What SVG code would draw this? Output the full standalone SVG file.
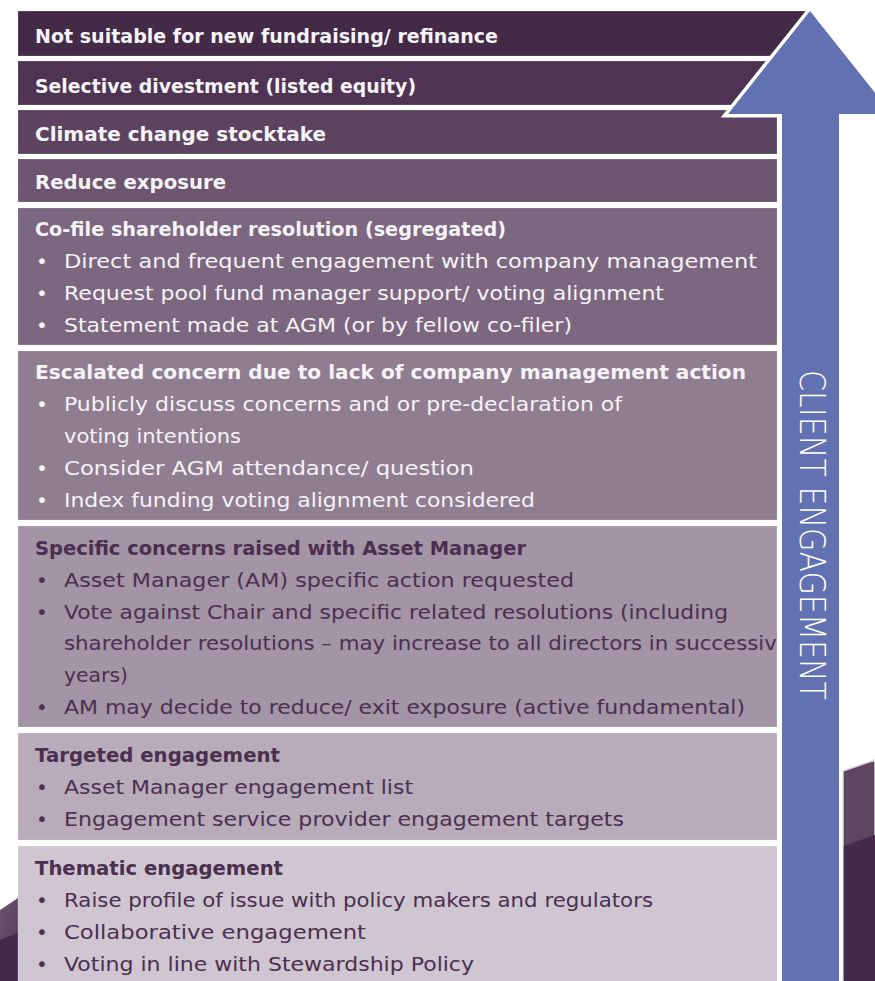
<svg xmlns="http://www.w3.org/2000/svg" width="875" height="981" viewBox="0 0 875 981">
<defs>
<style>
.t{font-family:"DejaVu Sans","Liberation Sans",sans-serif;font-weight:bold;font-size:19px}
.b{font-family:"DejaVu Sans","Liberation Sans",sans-serif;font-size:20px}
.d{font-family:"DejaVu Sans","Liberation Sans",sans-serif;font-size:20px;text-anchor:middle}
.lt{fill:#f6f3f7}
.dk{fill:#4a2f4f}
.box{stroke:#ffffff;stroke-opacity:0.18;stroke-width:1}
</style>
<clipPath id="clip7"><rect x="18" y="526" width="759" height="201"/></clipPath>
<linearGradient id="gl" x1="0" y1="0" x2="1" y2="1">
<stop offset="0" stop-color="#6b526e"/>
<stop offset="1" stop-color="#573d5b"/>
</linearGradient>
</defs>
<rect width="875" height="981" fill="#ffffff"/>

<g id="decor-left">
<polygon points="0,910 18,898 18,981 0,981" fill="url(#gl)"/>
<polygon points="0,940 18,933 18,981 0,981" fill="#44294a"/>
</g>
<g id="decor-right">
<polygon points="843,771 875,760 875,981 843,981" fill="#5e4560" stroke="#d9d2dc" stroke-width="1.5"/>
<polygon points="843.8,846 875,835 875,981 843.8,981" fill="#44294a"/>
</g>

<g id="box1">
<polygon class="box" points="18,11 812,11 778,56 18,56" fill="#432a47"/>
<text class="t lt" x="35" y="43" textLength="463" lengthAdjust="spacingAndGlyphs">Not suitable for new fundraising/ refinance</text>
</g>
<g id="box2">
<polygon class="box" points="18,61 772,61 737,105 18,105" fill="#4e3452"/>
<text class="t lt" x="35" y="93" textLength="381" lengthAdjust="spacingAndGlyphs">Selective divestment (listed equity)</text>
</g>
<g id="box3">
<rect class="box" x="18" y="110" width="759" height="44" fill="#5d4360"/>
<text class="t lt" x="35" y="141" textLength="291" lengthAdjust="spacingAndGlyphs">Climate change stocktake</text>
</g>
<g id="box4">
<rect class="box" x="18" y="159" width="759" height="43" fill="#6d5570"/>
<text class="t lt" x="35" y="189" textLength="191" lengthAdjust="spacingAndGlyphs">Reduce exposure</text>
</g>
<g id="box5">
<rect class="box" x="18" y="208" width="759" height="137" fill="#7c6780"/>
<text class="t lt" x="35" y="236" textLength="471" lengthAdjust="spacingAndGlyphs">Co-file shareholder resolution (segregated)</text>
<text class="d lt" x="42" y="268">•</text>
<text class="b lt" x="64" y="268" textLength="693" lengthAdjust="spacingAndGlyphs">Direct and frequent engagement with company management</text>
<text class="d lt" x="42" y="300">•</text>
<text class="b lt" x="64" y="300" textLength="600" lengthAdjust="spacingAndGlyphs">Request pool fund manager support/ voting alignment</text>
<text class="d lt" x="42" y="332">•</text>
<text class="b lt" x="64" y="332" textLength="508" lengthAdjust="spacingAndGlyphs">Statement made at AGM (or by fellow co-filer)</text>
</g>
<g id="box6">
<rect class="box" x="18" y="351" width="759" height="169" fill="#8f7d90"/>
<text class="t lt" x="35" y="379" textLength="711" lengthAdjust="spacingAndGlyphs">Escalated concern due to lack of company management action</text>
<text class="d lt" x="42" y="411">•</text>
<text class="b lt" x="64" y="411" textLength="558" lengthAdjust="spacingAndGlyphs">Publicly discuss concerns and or pre-declaration of</text>
<text class="b lt" x="64" y="443" textLength="177" lengthAdjust="spacingAndGlyphs">voting intentions</text>
<text class="d lt" x="42" y="475">•</text>
<text class="b lt" x="64" y="475" textLength="410" lengthAdjust="spacingAndGlyphs">Consider AGM attendance/ question</text>
<text class="d lt" x="42" y="507">•</text>
<text class="b lt" x="64" y="507" textLength="471" lengthAdjust="spacingAndGlyphs">Index funding voting alignment considered</text>
</g>
<g id="box7">
<rect class="box" x="18" y="526" width="759" height="201" fill="#a394a6"/>
<text class="t dk" x="35" y="555" textLength="491" lengthAdjust="spacingAndGlyphs">Specific concerns raised with Asset Manager</text>
<text class="d dk" x="42" y="587">•</text>
<text class="b dk" x="64" y="587" textLength="510" lengthAdjust="spacingAndGlyphs">Asset Manager (AM) specific action requested</text>
<text class="d dk" x="42" y="619">•</text>
<text class="b dk" x="64" y="619" textLength="664" lengthAdjust="spacingAndGlyphs">Vote against Chair and specific related resolutions (including</text>
<text class="b dk" x="64" y="650" textLength="726" lengthAdjust="spacingAndGlyphs" clip-path="url(#clip7)">shareholder resolutions – may increase to all directors in successive</text>
<text class="b dk" x="64" y="682" textLength="64" lengthAdjust="spacingAndGlyphs">years)</text>
<text class="d dk" x="42" y="714">•</text>
<text class="b dk" x="64" y="714" textLength="681" lengthAdjust="spacingAndGlyphs">AM may decide to reduce/ exit exposure (active fundamental)</text>
</g>
<g id="box8">
<rect class="box" x="18" y="733" width="759" height="107" fill="#b8abba"/>
<text class="t dk" x="35" y="762" textLength="245" lengthAdjust="spacingAndGlyphs">Targeted engagement</text>
<text class="d dk" x="42" y="794">•</text>
<text class="b dk" x="64" y="794" textLength="349" lengthAdjust="spacingAndGlyphs">Asset Manager engagement list</text>
<text class="d dk" x="42" y="826">•</text>
<text class="b dk" x="64" y="826" textLength="560" lengthAdjust="spacingAndGlyphs">Engagement service provider engagement targets</text>
</g>
<g id="box9">
<rect class="box" x="18" y="846" width="759" height="140" fill="#d0c6d2"/>
<text class="t dk" x="35" y="875" textLength="248" lengthAdjust="spacingAndGlyphs">Thematic engagement</text>
<text class="d dk" x="42" y="907">•</text>
<text class="b dk" x="64" y="907" textLength="589" lengthAdjust="spacingAndGlyphs">Raise profile of issue with policy makers and regulators</text>
<text class="d dk" x="42" y="939">•</text>
<text class="b dk" x="64" y="939" textLength="302" lengthAdjust="spacingAndGlyphs">Collaborative engagement</text>
<text class="d dk" x="42" y="971">•</text>
<text class="b dk" x="64" y="971" textLength="410" lengthAdjust="spacingAndGlyphs">Voting in line with Stewardship Policy</text>
</g>

<g id="arrow">
<polygon points="810,11 892,114 839,114 839,995 782,995 782,114 728,114" fill="#6171b1" stroke="#ffffff" stroke-width="7" stroke-linejoin="miter" paint-order="stroke"/>
<text x="0" y="0" transform="translate(800,370) rotate(90)" font-family="'DejaVu Sans','Liberation Sans',sans-serif" font-weight="200" font-size="35" fill="#ffffff" textLength="330" lengthAdjust="spacingAndGlyphs">CLIENT ENGAGEMENT</text>
</g>
</svg>
